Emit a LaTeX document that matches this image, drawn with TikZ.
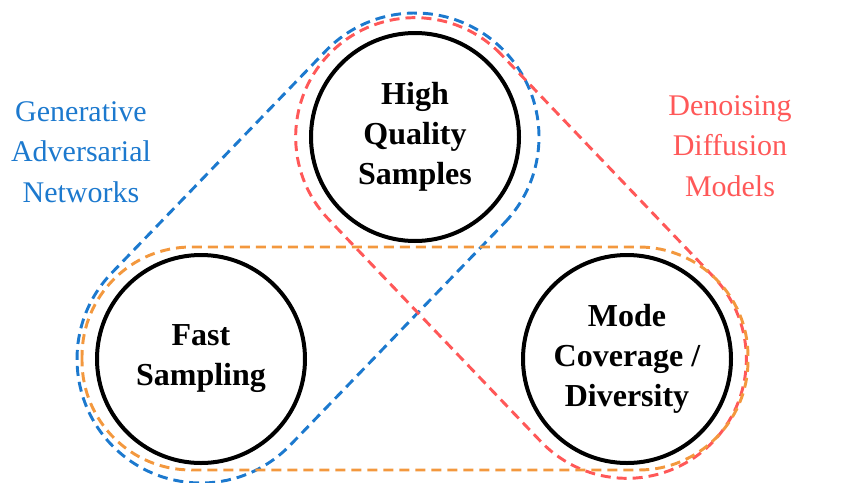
\documentclass[tikz,border=0pt]{standalone}
\usepackage{fontspec}
\setmainfont{Liberation Serif}
\usetikzlibrary{calc}
\definecolor{ganblue}{RGB}{28,121,206}
\definecolor{ddmred}{RGB}{255,88,88}
\definecolor{hullorange}{RGB}{243,152,62}
\begin{document}
\begin{tikzpicture}[x=0.75pt,y=-0.75pt,
  prop/.style={circle,draw=black,line width=3pt,fill=white,minimum size=156pt,inner sep=0pt,align=center,font=\bfseries\fontsize{24}{30}\selectfont},
  hull/.style={line width=2.2pt,dash pattern=on 7.5pt off 4.5pt},
  fam/.style={align=center,font=\fontsize{22.5}{30.5}\selectfont}]
\useasboundingbox (0,0) rectangle (842,482);
\coordinate (Ac) at (415,137);
\coordinate (Bc) at (201,359);
\coordinate (Cc) at (627,359);
% GAN hull (blue)
\draw[hull,ganblue] let \p1=(Ac), \p2=(Bc), \n1={atan2(\y2-\y1,\x2-\x1)} in
  ($(\p1)+(\n1+90:93pt)$) arc[start angle=\n1+90, end angle=\n1+270, radius=93pt]
  -- ($(\p2)+(\n1-90:93pt)$) arc[start angle=\n1-90, end angle=\n1+90, radius=93pt] -- cycle;
% Diffusion hull (red)
\draw[hull,ddmred] let \p1=(Ac), \p2=(Cc), \n1={atan2(\y2-\y1,\x2-\x1)} in
  ($(\p1)+(\n1+90:89.5pt)$) arc[start angle=\n1+90, end angle=\n1+270, radius=89.5pt]
  -- ($(\p2)+(\n1-90:89.5pt)$) arc[start angle=\n1-90, end angle=\n1+90, radius=89.5pt] -- cycle;
% bottom hull (orange)
\draw[hull,hullorange,rounded corners=82pt] (82,247) rectangle (748,470);
% property circles
\node[prop] (A) at (Ac) {High\\Quality\\Samples};
\node[prop] (B) at (Bc) {Fast\\Sampling};
\node[prop] (C) at (Cc) {Mode\\Coverage /\\Diversity};
% labels
\node[fam,text=ganblue] (gan) at (81,152) {Generative\\Adversarial\\Networks};
\node[fam,text=ddmred] (ddm) at (730,146) {Denoising\\Diffusion\\Models};
\end{tikzpicture}
\end{document}
